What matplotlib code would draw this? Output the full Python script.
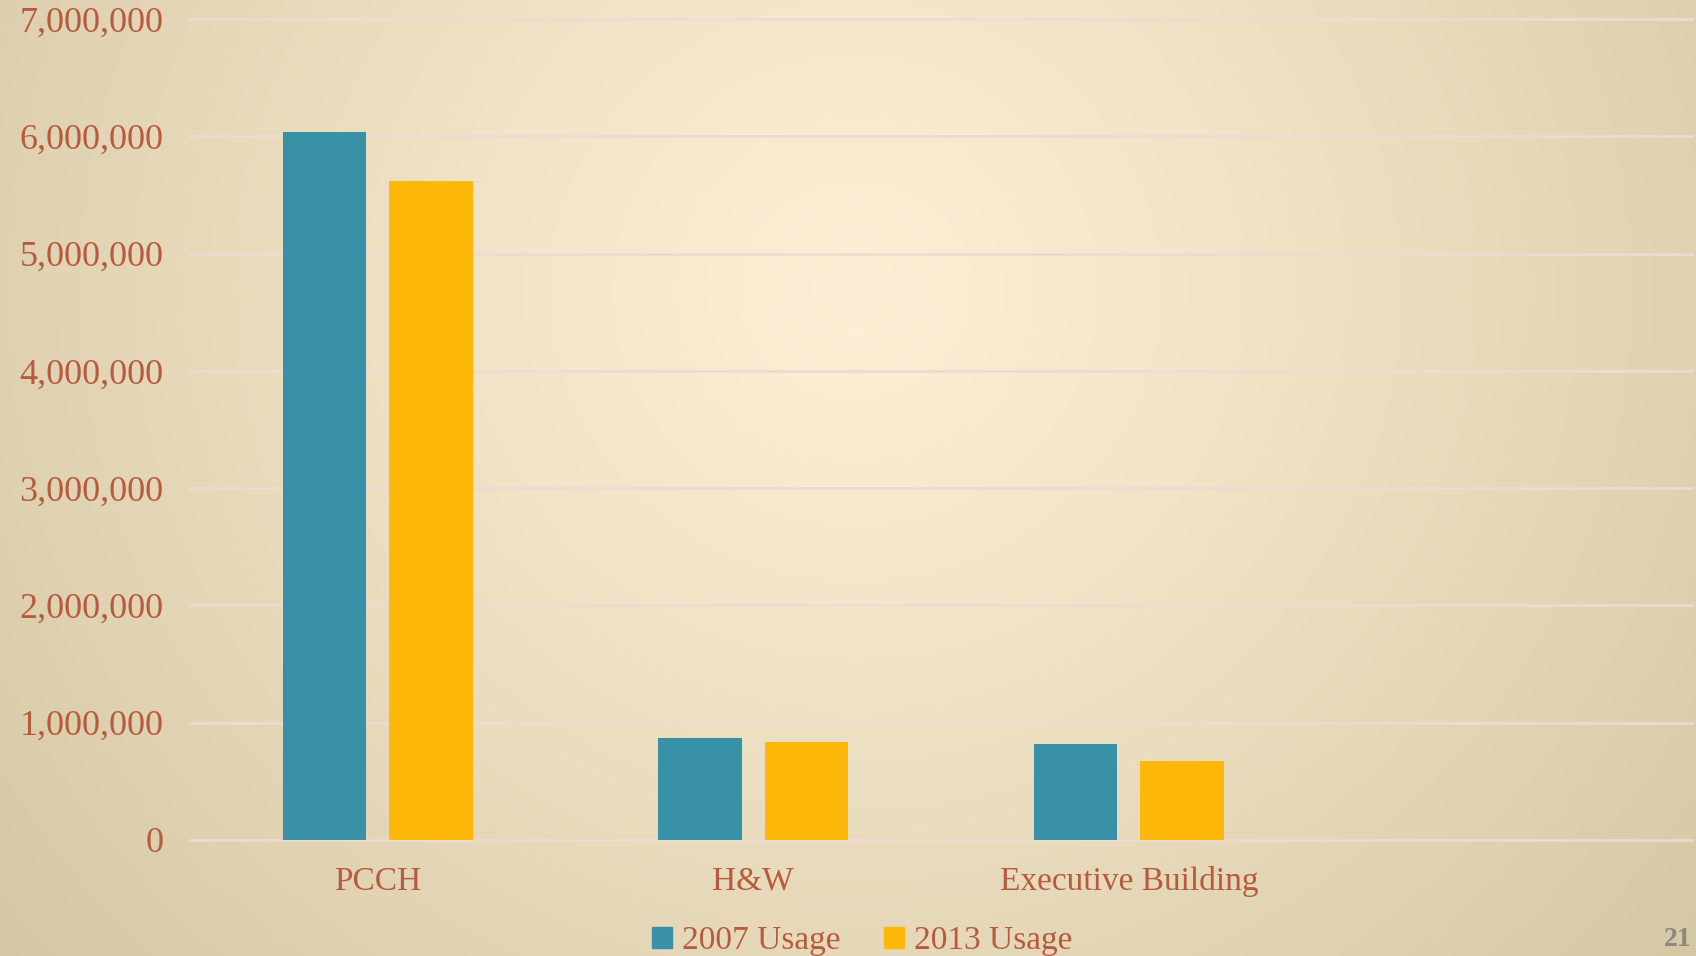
#!/usr/bin/env python3
"""Energy usage by building, 2007 vs 2013 - grouped bar chart on a cream slide."""

import numpy as np
import matplotlib

matplotlib.use("Agg")
import matplotlib.pyplot as plt
from matplotlib.patches import Patch
from matplotlib.ticker import FuncFormatter

# data
buildings = ["PCCH", "H&W", "Executive Building", ""]
usage_2007 = [6040000, 872000, 821000, np.nan]
usage_2013 = [5620000, 835000, 673000, np.nan]
series_names = ["2007 Usage", "2013 Usage"]
y_ticks = [0, 1000000, 2000000, 3000000, 4000000, 5000000, 6000000, 7000000]

TEAL = "#3891A7"
GOLD = "#FEB80A"
TEXT = "#B85B3D"
GRID = "#F0D9D0"

W, H = 1696, 956
plt.rcParams["font.family"] = ["Liberation Serif", "DejaVu Serif"]

fig = plt.figure(figsize=(W / 100, H / 100), dpi=100)

# radial slide background
bg = fig.add_axes([0, 0, 1, 1], zorder=-10)
yy, xx = np.mgrid[0:H, 0:W]
d = np.hypot((xx - 855) / 1.05, yy - 290)
t = np.clip(d / 1060.0, 0, 1) ** 1.15
c0 = np.array([253, 239, 213]) / 255.0
c1 = np.array([212, 199, 164]) / 255.0
img = c0[None, None, :] + (c1 - c0)[None, None, :] * t[..., None]
bg.imshow(img, aspect="auto", extent=(0, 1, 0, 1), origin="upper")
bg.set_axis_off()

ax = fig.add_axes([190 / W, 1 - 840 / H, (1692 - 190) / W, (840 - 19) / H])
ax.patch.set_alpha(0)

x = np.arange(len(buildings))
bw = 0.223
off = 0.142
ax.bar(x - off, usage_2007, width=bw, color=TEAL, zorder=3)
ax.bar(x + off, usage_2013, width=bw, color=GOLD, zorder=3)

ax.set_xlim(-0.5, len(buildings) - 0.5)
ax.set_ylim(0, 7000000)
ax.set_yticks(y_ticks)
ax.yaxis.set_major_formatter(FuncFormatter(lambda v, _: f"{int(v):,}"))
ax.set_xticks(x)
ax.set_xticklabels(buildings)

for v in y_ticks:
    ax.axhline(v, color=GRID, lw=1.9, zorder=1, clip_on=False)

for s in ax.spines.values():
    s.set_visible(False)
ax.tick_params(axis="y", length=0, pad=19, labelsize=26, labelcolor=TEXT)
ax.tick_params(axis="x", length=0, pad=19, labelsize=24, labelcolor=TEXT)

handles = [Patch(color=TEAL), Patch(color=GOLD)]
fig.legend(
    handles, series_names,
    loc="center", bbox_to_anchor=(862 / W, 1 - 941 / H),
    ncol=2, frameon=False, fontsize=24, labelcolor=TEXT,
    handlelength=0.6, handleheight=0.6, handletextpad=0.3, columnspacing=1.3,
)

# slide number in the corner
fig.text(1692 / W, 1 - 952 / H, "21", color="#8F8580", fontsize=20,
         fontweight="bold", ha="right", va="bottom")

fig.savefig("out.png", dpi=100)
